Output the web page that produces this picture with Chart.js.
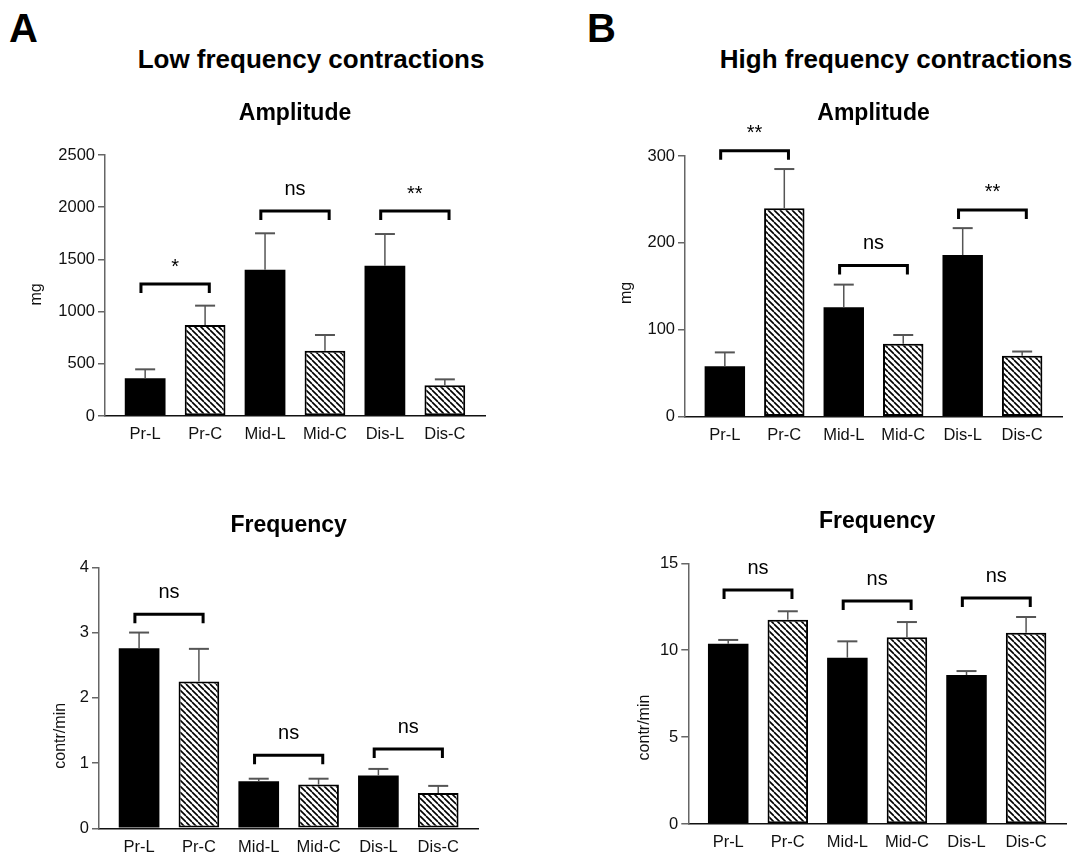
<!DOCTYPE html>
<html>
<head>
<meta charset="utf-8">
<script src="https://cdn.jsdelivr.net/npm/chart.js@4.4.1/dist/chart.umd.min.js"></script>
<style>
  body { margin: 0; background: #fff; width: 1083px; height: 855px; position: relative; overflow: hidden;
         font-family: "Liberation Sans", Arial, sans-serif; color: #000; }
  .box { position: absolute; }
  .letter { position: absolute; font-size: 40px; font-weight: bold; line-height: 40px; }
  .head { position: absolute; font-size: 26px; font-weight: bold; line-height: 26px; white-space: nowrap; transform: translateX(-50%); }
</style>
</head>
<body>
<div class="letter" style="left:9px; top:8px">A</div>
<div class="letter" style="left:587px; top:8px">B</div>
<div class="head" style="left:311px; top:46px">Low frequency contractions</div>
<div class="head" style="left:896px; top:46px">High frequency contractions</div>

<div class="box" style="left:0; top:90px"><canvas id="lowAmp" width="520" height="370"></canvas></div>
<div class="box" style="left:540px; top:90px"><canvas id="highAmp" width="543" height="370"></canvas></div>
<div class="box" style="left:0; top:480px"><canvas id="lowFreq" width="520" height="375"></canvas></div>
<div class="box" style="left:540px; top:480px"><canvas id="highFreq" width="543" height="375"></canvas></div>

<script>
const categories = ["Pr-L", "Pr-C", "Mid-L", "Mid-C", "Dis-L", "Dis-C"];

// A - low frequency contractions (mean and SEM)
const lowAmpMean = [361, 872, 1401, 626, 1440, 294];
const lowAmpSem = [86, 185, 349, 150, 303, 57];
const lowFreqMean = [2.76, 2.25, 0.72, 0.67, 0.81, 0.54];
const lowFreqSem = [0.24, 0.5, 0.04, 0.09, 0.1, 0.11];

// B - high frequency contractions
const highAmpMean = [58, 240, 126, 84, 186, 70];
const highAmpSem = [16, 45, 26, 10, 31, 5];
const highFreqMean = [10.37, 11.75, 9.57, 10.74, 8.57, 11.01];
const highFreqSem = [0.22, 0.49, 0.94, 0.88, 0.23, 0.9];

// y tick values
const lowAmpTicks = [0, 500, 1000, 1500, 2000, 2500];
const lowFreqTicks = [0, 1, 2, 3, 4];
const highAmpTicks = [0, 100, 200, 300];
const highFreqTicks = [0, 5, 10, 15];

// significance brackets: [from bar, to bar, bracket height, label]
const lowAmpSig = [[0, 1, 1264, "*"], [2, 3, 1963, "ns"], [4, 5, 1963, "**"]];
const lowFreqSig = [[0, 1, 3.28, "ns"], [2, 3, 1.12, "ns"], [4, 5, 1.215, "ns"]];
const highAmpSig = [[0, 1, 306, "**"], [2, 3, 174, "ns"], [4, 5, 238, "**"]];
const highFreqSig = [[0, 1, 13.46, "ns"], [2, 3, 12.83, "ns"], [4, 5, 13.0, "ns"]];

const FONT = "'Liberation Sans', Arial, sans-serif";
Chart.defaults.font.family = FONT;

function hatch() {
    const s = 6;
    const c = document.createElement("canvas");
    c.width = s; c.height = s;
    const g = c.getContext("2d");
    g.fillStyle = "#fff";
    g.fillRect(0, 0, s, s);
    g.strokeStyle = "#000";
    g.lineWidth = 1.6;
    g.beginPath();
    for (const k of [-s, 0, s]) { g.moveTo(k, 0); g.lineTo(k + s, s); }
    g.stroke();
    return g.createPattern(c, "repeat");
}

// error bars, brackets and the y title
function extras(p) {
    return {
        id: "extras",
        afterDatasetsDraw(chart) {
            const ctx = chart.ctx, x = chart.scales.x, y = chart.scales.y;
            ctx.save();
            ctx.strokeStyle = "#555";
            p.sem.forEach((e, i) => {
                const cx = x.getPixelForValue(i);
                const y0 = y.getPixelForValue(p.mean[i]);
                const y1 = y.getPixelForValue(p.mean[i] + e);
                ctx.lineWidth = 1.5;
                ctx.beginPath(); ctx.moveTo(cx, y0); ctx.lineTo(cx, y1); ctx.stroke();
                ctx.lineWidth = 2;
                ctx.beginPath(); ctx.moveTo(cx - 10, y1); ctx.lineTo(cx + 10, y1); ctx.stroke();
            });

            ctx.strokeStyle = "#000";
            ctx.fillStyle = "#000";
            ctx.lineWidth = 3;
            ctx.lineCap = "butt";
            ctx.font = "20px " + FONT;
            ctx.textAlign = "center";
            ctx.textBaseline = "alphabetic";
            p.sig.forEach(([a, b, h, label]) => {
                const x1 = x.getPixelForValue(a - 0.07);
                const x2 = x.getPixelForValue(b + 0.07);
                const yy = y.getPixelForValue(h);
                ctx.beginPath();
                ctx.moveTo(x1, yy + 9); ctx.lineTo(x1, yy); ctx.lineTo(x2, yy); ctx.lineTo(x2, yy + 9);
                ctx.stroke();
                const m = ctx.measureText(label);
                const mid = yy - 21.5;
                const base = mid + (m.actualBoundingBoxAscent - m.actualBoundingBoxDescent) / 2;
                ctx.fillText(label, (x1 + x2) / 2, base);
            });
            ctx.restore();
        },
        afterDraw(chart) {
            const ctx = chart.ctx;
            ctx.save();
            ctx.translate(p.yTitleX, p.yTitleY);
            ctx.rotate(-Math.PI / 2);
            ctx.font = "16px " + FONT;
            ctx.fillStyle = "#111";
            ctx.textAlign = "center";
            ctx.textBaseline = "middle";
            ctx.fillText(p.yTitle, 0, 0);
            ctx.restore();
        }
    };
}

function makeChart(id, p) {
    const canvas = document.getElementById(id);
    const W = canvas.width, H = canvas.height;
    const box = canvas.parentElement;
    const bx = box.offsetLeft, by = box.offsetTop;
    const titleSize = 23, titleLine = titleSize * 1.2;
    const titleMid = p.titleBase - by - 0.3465 * titleSize;
    const padTop = titleMid - titleLine / 2;
    const padBottom = (p.top - by) - padTop - titleLine;
    const pattern = hatch();
    const isC = categories.map(c => c.endsWith("-C"));
    p.yTitleX -= bx;
    p.yTitleY -= by;

    return new Chart(canvas, {
        type: "bar",
        data: {
            datasets: [{
                data: p.mean.map((v, i) => ({ x: i, y: v })),
                backgroundColor: isC.map(c => c ? pattern : "#000"),
                borderColor: "#000",
                borderWidth: isC.map(c => c ? 2 : 0),
                borderSkipped: false,
                barPercentage: 0.68,
                categoryPercentage: 1
            }]
        },
        options: {
            responsive: false,
            animation: false,
            layout: { padding: { left: 0, top: 0, bottom: 0, right: W - (p.right - bx) } },
            plugins: {
                legend: { display: false },
                tooltip: { enabled: false },
                title: {
                    display: true,
                    fullSize: false,
                    text: p.title,
                    color: "#000",
                    font: { size: titleSize, weight: "bold" },
                    padding: { top: padTop, bottom: padBottom }
                }
            },
            scales: {
                x: {
                    type: "linear",
                    offset: false,
                    bounds: "data",
                    min: -0.67,
                    max: 5.67,
                    afterBuildTicks: s => { s.ticks = categories.map((c, i) => ({ value: i })); },
                    afterFit: s => { s.height = H - (p.bottom - by); },
                    ticks: {
                        callback: v => categories[v],
                        autoSkip: false,
                        maxRotation: 0,
                        font: { size: 16.5 },
                        color: "#111",
                        padding: 9
                    },
                    grid: { display: false, drawTicks: false, offset: false },
                    border: { color: "#111", width: 1.5 }
                },
                y: {
                    min: 0,
                    max: p.ticks[p.ticks.length - 1],
                    afterBuildTicks: s => { s.ticks = p.ticks.map(v => ({ value: v })); },
                    afterFit: s => { s.width = p.left - bx; },
                    ticks: { callback: v => String(v), font: { size: 16.5 }, color: "#111", padding: 3 },
                    grid: { drawOnChartArea: false, tickLength: 7, color: "#666", lineWidth: 1.5 },
                    border: { color: "#666", width: 1.5 }
                }
            }
        },
        plugins: [extras(p)]
    });
}

makeChart("lowAmp", {
    title: "Amplitude", yTitle: "mg", mean: lowAmpMean, sem: lowAmpSem, sig: lowAmpSig, ticks: lowAmpTicks,
    left: 105, right: 485, top: 155, bottom: 416, titleBase: 121.7, yTitleX: 37, yTitleY: 294.5
});
makeChart("highAmp", {
    title: "Amplitude", yTitle: "mg", mean: highAmpMean, sem: highAmpSem, sig: highAmpSig, ticks: highAmpTicks,
    left: 685, right: 1062, top: 156, bottom: 416.7, titleBase: 121.7, yTitleX: 627, yTitleY: 293
});
makeChart("lowFreq", {
    title: "Frequency", yTitle: "contr/min", mean: lowFreqMean, sem: lowFreqSem, sig: lowFreqSig, ticks: lowFreqTicks,
    left: 99, right: 478.3, top: 567.3, bottom: 828.3, titleBase: 533.3, yTitleX: 61, yTitleY: 735.8
});
makeChart("highFreq", {
    title: "Frequency", yTitle: "contr/min", mean: highFreqMean, sem: highFreqSem, sig: highFreqSig, ticks: highFreqTicks,
    left: 688.3, right: 1066, top: 563.3, bottom: 824, titleBase: 529.3, yTitleX: 645, yTitleY: 727.5
});
</script>
</body>
</html>
